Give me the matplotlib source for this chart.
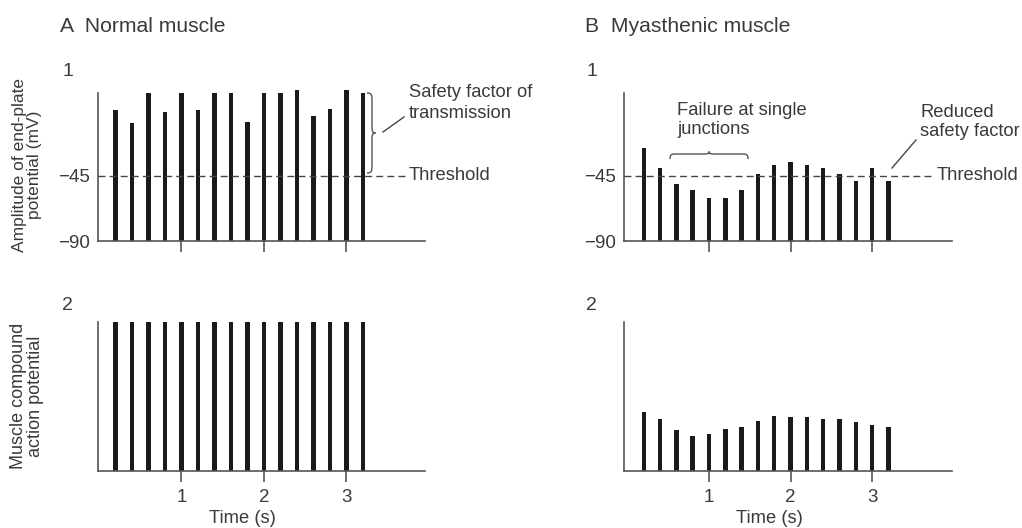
import matplotlib
matplotlib.use("Agg")
import matplotlib.pyplot as plt
from matplotlib.path import Path
from matplotlib.patches import PathPatch
from matplotlib.lines import Line2D

# ---------------- data ----------------
times = [0.2, 0.4, 0.6, 0.8, 1.0, 1.2, 1.4, 1.6, 1.8, 2.0, 2.2, 2.4, 2.6, 2.8, 3.0, 3.2]
normal_epp = [0.7, -8.8, 12.2, -1.2, 12.2, 0.7, 12.2, 12.2, -8.1, 12.2, 12.2, 14.1, -3.5, 1.4, 14.1, 12.2]
myasthenic_epp = [-26.1, -39.7, -50.3, -54.5, -60.0, -60.0, -54.5, -43.4, -37.8, -35.5,
                  -37.8, -39.7, -43.4, -48.9, -39.7, -48.9]
normal_cap = [1.0] * 16
myasthenic_cap = [0.396, 0.351, 0.274, 0.236, 0.245, 0.281, 0.297, 0.335, 0.366, 0.360,
                  0.360, 0.351, 0.351, 0.328, 0.312, 0.297]
threshold = -45
resting = -90
epp_ticks = [-90, -45]
epp_ticklabels = ["\u221290", "\u221245"]
time_ticks = [1, 2, 3]
time_ticklabels = ["1", "2", "3"]

# ---------------- style ----------------
W, H = 1022, 528
TXT = "#3a3a3a"
BAR = "#1a1a1a"
AX = "#555555"
FS = 13.2
TICKFS = 13.5
plt.rcParams["font.family"] = ["Liberation Sans", "DejaVu Sans"]

fig = plt.figure(figsize=(W / 100, H / 100), dpi=100)


def fx(x):
    return x / W


def fy(y):
    return 1 - y / H


def make_ax(l, t, r, b, xlim):
    ax = fig.add_axes([fx(l), fy(b), (r - l) / W, (b - t) / H])
    for s in ("top", "right"):
        ax.spines[s].set_visible(False)
    for s in ("left", "bottom"):
        ax.spines[s].set_color(AX)
        ax.spines[s].set_linewidth(1.2)
    ax.set_xlim(*xlim)
    ax.patch.set_alpha(0)
    return ax


axA1 = make_ax(98, 93, 425, 241, (-0.01, 3.954))
axB1 = make_ax(624, 93, 952, 241, (-0.042, 3.978))
axA2 = make_ax(98, 322, 425, 471, (-0.01, 3.954))
axB2 = make_ax(624, 322, 952, 471, (-0.042, 3.978))

BW = 0.054
for ax, vals in ((axA1, normal_epp), (axB1, myasthenic_epp)):
    ax.bar(times, [v - resting for v in vals], bottom=resting, width=BW,
           color=BAR, clip_on=False, zorder=2)
    ax.set_ylim(resting, 12.2)
    ax.set_yticks(epp_ticks)
    ax.set_yticklabels(epp_ticklabels)
    ax.set_xticks(time_ticks)
    ax.set_xticklabels([])
    ax.tick_params(axis="y", length=0, pad=6, labelsize=TICKFS, labelcolor=TXT)
    ax.tick_params(axis="x", length=8, width=1.2, color=AX, direction="out")
    ax.plot([ax.get_xlim()[0], 3.72], [threshold, threshold], color="#444444",
            lw=1.0, dashes=(5, 3), zorder=3, clip_on=False)

for ax, vals in ((axA2, normal_cap), (axB2, myasthenic_cap)):
    ax.bar(times, vals, width=BW, color=BAR, zorder=2)
    ax.set_ylim(0, 1)
    ax.set_yticks([])
    ax.set_xticks(time_ticks)
    ax.set_xticklabels(time_ticklabels)
    ax.tick_params(axis="x", length=8, width=1.2, color=AX, direction="out",
                   pad=5, labelsize=TICKFS, labelcolor=TXT)

# ---------------- texts ----------------
def t(x, y, s, **kw):
    kw.setdefault("fontsize", FS)
    kw.setdefault("color", TXT)
    kw.setdefault("va", "center")
    kw.setdefault("ha", "left")
    fig.text(fx(x), fy(y), s, **kw)


t(60, 27, "A  Normal muscle", fontsize=15.2)
t(585, 27, "B  Myasthenic muscle", fontsize=15.2)
t(62, 72, "1", fontsize=14)
t(586, 72, "1", fontsize=14)
t(62, 305, "2", fontsize=14)
t(586, 305, "2", fontsize=14)
t(27, 165, "Amplitude of end-plate\npotential (mV)", rotation=90, ha="center",
  multialignment="center", linespacing=1.0, fontsize=12.5)
t(27, 396, "Muscle compound\naction potential", rotation=90, ha="center",
  multialignment="center", linespacing=1.0, fontsize=13)
t(242, 527, "Time (s)", ha="center", va="bottom")
t(769, 527, "Time (s)", ha="center", va="bottom")
t(409, 176, "Threshold")
t(937, 176, "Threshold")
t(409, 103, "Safety factor of\ntransmission", linespacing=1.3)
t(677, 120, "Failure at single\njunctions", linespacing=1.15)
t(920, 122, "Reduced\nsafety factor", linespacing=1.15)

# ---------------- braces / leader lines ----------------
def to_fig(pts):
    return [(fx(x), fy(y)) for x, y in pts]


def brace(p0, p1, depth_mid, depth_tip, horizontal):
    if horizontal:
        (x0, y0), (x1, _) = p0, p1
        xm = (x0 + x1) / 2
        a, b = depth_mid, depth_tip
        r = 6
        pts = [(x0, y0), (x0, y0 - a), (x0 + r * 0.3, y0 - a), (x0 + r, y0 - a),
               (xm - r, y0 - a),
               (xm - r * 0.3, y0 - a), (xm, y0 - a), (xm, y0 - b),
               (xm, y0 - a), (xm + r * 0.3, y0 - a), (xm + r, y0 - a),
               (x1 - r, y0 - a),
               (x1 - r * 0.3, y0 - a), (x1, y0 - a), (x1, y0)]
    else:
        (x0, y0), (_, y1) = p0, p1
        ym = (y0 + y1) / 2
        a, b = depth_mid, depth_tip
        r = 8
        pts = [(x0, y0), (x0 + a, y0), (x0 + a, y0 + r * 0.3), (x0 + a, y0 + r),
               (x0 + a, ym - r),
               (x0 + a, ym - r * 0.3), (x0 + a, ym), (x0 + b, ym),
               (x0 + a, ym), (x0 + a, ym + r * 0.3), (x0 + a, ym + r),
               (x0 + a, y1 - r),
               (x0 + a, y1 - r * 0.3), (x0 + a, y1), (x0, y1)]
    codes = [Path.MOVETO, Path.CURVE4, Path.CURVE4, Path.CURVE4, Path.LINETO,
             Path.CURVE4, Path.CURVE4, Path.CURVE4,
             Path.CURVE4, Path.CURVE4, Path.CURVE4, Path.LINETO,
             Path.CURVE4, Path.CURVE4, Path.CURVE4]
    patch = PathPatch(Path(to_fig(pts), codes), transform=fig.transFigure,
                      fill=False, edgecolor="#555555", lw=1.0)
    fig.add_artist(patch)


brace((367, 93), (367, 173), 5, 8.5, horizontal=False)
brace((670, 159), (748, 159), 5, 7.5, horizontal=True)

for (xa, ya), (xb, yb) in (((383, 132), (404, 117)), ((892, 168), (916, 140))):
    fig.add_artist(Line2D([fx(xa), fx(xb)], [fy(ya), fy(yb)], transform=fig.transFigure,
                          color="#444444", lw=1.0))

fig.savefig("out.png", dpi=100)
